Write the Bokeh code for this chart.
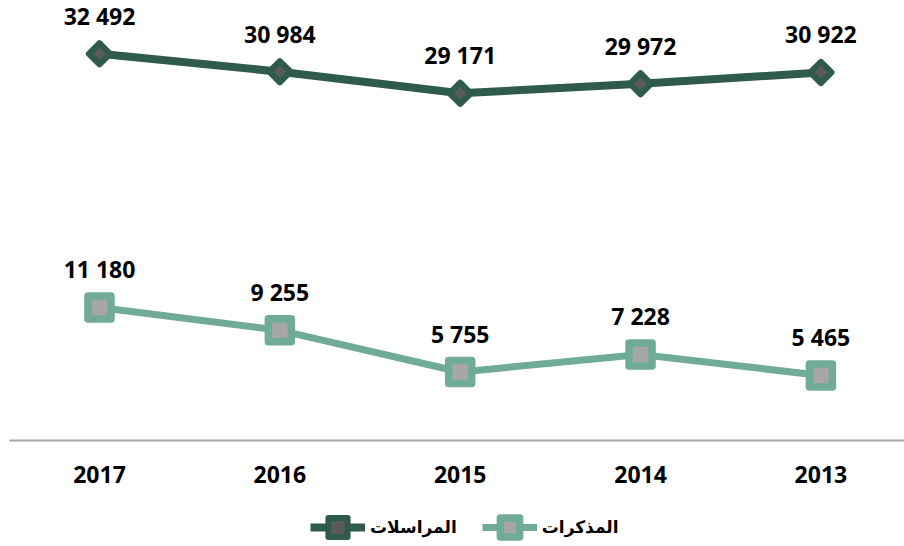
import numpy as np
from bokeh.plotting import figure
from bokeh.models import Range1d, Legend, LegendItem, ColumnDataSource
from bokeh.core.properties import value
from bokeh.embed import file_html
from bokeh.resources import INLINE

years = ["2017", "2016", "2015", "2014", "2013"]
correspondence = [32492, 30984, 29171, 29972, 30922]   # المراسلات
memos = [11180, 9255, 5755, 7228, 5465]                # المذكرات
series_names = ["المراسلات", "المذكرات"]

DARK = "#2F5B4A"
DARK_IN = "#5A5A5A"
LIGHT = "#70AC95"
LIGHT_IN = "#A6A6A6"
AXIS = "#A6A6A6"


def fmt(v):
    return f"{v:,}".replace(",", " ")


x = list(range(len(years)))
src1 = ColumnDataSource(dict(x=x, y=correspondence, lab=[fmt(v) for v in correspondence]))
src2 = ColumnDataSource(dict(x=x, y=memos, lab=[fmt(v) for v in memos]))
src_years = ColumnDataSource(dict(x=x, y=[0] * len(x), lab=years))

W, H = 904, 546
p = figure(width=W, height=H,
           x_range=Range1d(-0.5489, 4.4636), y_range=Range1d(-8905, 36966),
           output_backend="svg", toolbar_location=None,
           x_axis_location=None, y_axis_location=None,
           min_border_left=0, min_border_right=0, min_border_top=0, min_border_bottom=0)
p.grid.visible = False
p.outline_line_color = None
p.background_fill_color = "white"
p.border_fill_color = "white"

# category axis line spanning the category bands
p.segment(x0=[-0.5], y0=[0], x1=[len(years) - 0.5], y1=[0], line_color=AXIS, line_width=2)
p.text("x", "y", text="lab", source=src_years, y_offset=34,
       text_align="center", text_baseline="alphabetic",
       text_font=value("Open Sans"), text_font_style="bold",
       text_font_size="23px", text_color="black")

r1 = p.line("x", "y", source=src1, line_color=DARK, line_width=8, line_join="round")
s1 = p.scatter("x", "y", source=src1, marker="square", angle=np.pi / 4, size=15,
               fill_color=DARK_IN, line_color=DARK, line_width=6, line_join="round")
r2 = p.line("x", "y", source=src2, line_color=LIGHT, line_width=7, line_join="round")
s2 = p.scatter("x", "y", source=src2, marker="square", size=23,
               fill_color=LIGHT_IN, line_color=LIGHT, line_width=7.5, line_join="round")

for src in (src1, src2):
    p.text("x", "y", text="lab", source=src, y_offset=-38,
           text_align="center", text_baseline="alphabetic",
           text_font=value("Open Sans"), text_font_style="bold",
           text_font_size="23px", text_color="black")

legend = Legend(items=[LegendItem(label=series_names[0], renderers=[r1, s1]),
                       LegendItem(label=series_names[1], renderers=[r2, s2])],
                location=(310, -5), orientation="horizontal",
                glyph_width=55, glyph_height=48, label_standoff=5, spacing=25,
                padding=0, margin=0, border_line_color=None,
                background_fill_alpha=0,
                label_text_font="DejaVu Sans", label_text_font_style="bold",
                label_text_font_size="17px", label_text_color="black")
p.add_layout(legend, "center")

open("out.html", "w").write(file_html(p, INLINE))
